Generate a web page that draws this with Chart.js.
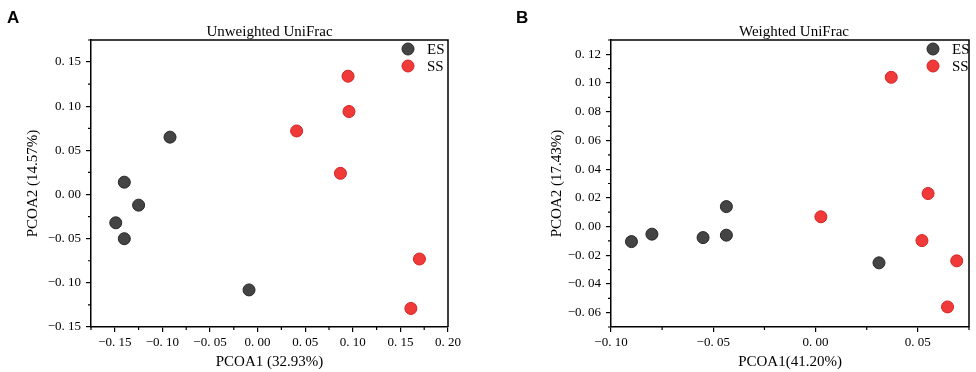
<!DOCTYPE html>
<html>
<head>
<meta charset="utf-8">
<script src="https://cdn.jsdelivr.net/npm/chart.js@4.4.0/dist/chart.umd.min.js"></script>
<style>
  body { margin: 0; background: #fff; }
  #wrap { position: relative; width: 976px; height: 372px; }
  .panel { position: absolute; top: 0; height: 372px; }
</style>
</head>
<body>
<div id="wrap">
  <div class="panel" style="left:0;width:488px"><canvas id="chartA"></canvas></div>
  <div class="panel" style="left:490px;width:486px"><canvas id="chartB"></canvas></div>
</div>
<script>
// panel A - unweighted unifrac
const unwES = [
  {x: -0.092, y: 0.065}, {x: -0.140, y: 0.014}, {x: -0.125, y: -0.012},
  {x: -0.149, y: -0.032}, {x: -0.140, y: -0.050}, {x: -0.009, y: -0.108}
];
const unwSS = [
  {x: 0.095, y: 0.134}, {x: 0.096, y: 0.094}, {x: 0.041, y: 0.072},
  {x: 0.087, y: 0.024}, {x: 0.170, y: -0.073}, {x: 0.161, y: -0.129}
];
// panel B - weighted unifrac
const wES = [
  {x: -0.090, y: -0.0105}, {x: -0.080, y: -0.0053}, {x: -0.055, y: -0.0077},
  {x: -0.0436, y: 0.0139}, {x: -0.0436, y: -0.006}, {x: 0.031, y: -0.0253}
];
const wSS = [
  {x: 0.037, y: 0.104}, {x: 0.0026, y: 0.0068}, {x: 0.055, y: 0.023},
  {x: 0.052, y: -0.0098}, {x: 0.069, y: -0.0239}, {x: 0.0645, y: -0.056}
];
const groupNames = ['ES', 'SS'];

const serif = '"Liberation Serif", "Times New Roman", serif';

const isMajor = (v, major) => Math.abs(Math.round(v / major) * major - v) < 1e-9;

const fmt = (major) => (v) => {
  if (!isMajor(v, major)) return '';
  let s = Math.abs(v).toFixed(2).replace('.', '. ');
  return (v < -1e-9 ? '\u2212' : '') + s;
};

// minor ticks get hidden by chart.js and redrawn shorter here
const decor = {
  id: 'decor',
  afterDraw(chart, args, opts) {
    const ctx = chart.ctx;
    const a = chart.chartArea;
    ctx.save();
    ctx.strokeStyle = '#000';
    ctx.lineWidth = 1.2;
    const sx = chart.scales.x, sy = chart.scales.y;
    ctx.beginPath();
    sx.ticks.forEach(t => {
      if (isMajor(t.value, opts.xMajor)) return;
      const px = sx.getPixelForValue(t.value);
      ctx.moveTo(px, a.bottom);
      ctx.lineTo(px, a.bottom + 3);
    });
    sy.ticks.forEach(t => {
      if (isMajor(t.value, opts.yMajor)) return;
      const py = sy.getPixelForValue(t.value);
      ctx.moveTo(a.left, py);
      ctx.lineTo(a.left - 3, py);
    });
    ctx.stroke();
    // box
    ctx.lineWidth = 1.5;
    ctx.beginPath();
    ctx.moveTo(a.left, a.top);
    ctx.lineTo(a.right, a.top);
    ctx.lineTo(a.right, a.bottom);
    ctx.stroke();
    // title
    ctx.fillStyle = '#000';
    ctx.font = '15px ' + serif;
    ctx.textAlign = 'center';
    ctx.textBaseline = 'alphabetic';
    ctx.fillText(opts.title, (a.left + a.right) / 2 + opts.titleShift, 36);
    // panel letter
    ctx.font = 'bold 17px "Liberation Sans", Arial, sans-serif';
    ctx.textAlign = 'left';
    ctx.fillText(opts.letter, opts.letterX, 23);
    // legend
    chart.data.datasets.forEach((ds, i) => {
      const cy = 49 + i * 17;
      ctx.beginPath();
      ctx.arc(opts.legendX, cy, 6, 0, Math.PI * 2);
      ctx.fillStyle = ds.backgroundColor;
      ctx.fill();
      ctx.lineWidth = 1;
      ctx.strokeStyle = ds.borderColor;
      ctx.stroke();
      ctx.fillStyle = '#000';
      ctx.font = '15px ' + serif;
      ctx.textBaseline = 'middle';
      ctx.fillText(ds.label, opts.legendX + 19, cy + 1);
    });
    ctx.restore();
  }
};

function makeChart(id, es, ss, cfg) {
  const tickCol = (major) => (c) => (c.tick && isMajor(c.tick.value, major)) ? '#000' : 'rgba(0,0,0,0)';
  return new Chart(document.getElementById(id), {
    type: 'scatter',
    data: {
      datasets: [
        {label: groupNames[0], data: es, backgroundColor: '#444444', borderColor: '#262626', borderWidth: 1, pointRadius: 6, pointHoverRadius: 6},
        {label: groupNames[1], data: ss, backgroundColor: '#f03a3a', borderColor: '#d42222', borderWidth: 1, pointRadius: 6, pointHoverRadius: 6}
      ]
    },
    options: {
      responsive: true,
      maintainAspectRatio: false,
      animation: false,
      layout: { padding: { left: 0, top: 40, right: cfg.padRight, bottom: 0 } },
      plugins: {
        legend: { display: false },
        tooltip: { enabled: false },
        decor: Object.assign({ xMajor: cfg.x[3], yMajor: cfg.y[3] }, cfg.decor)
      },
      scales: {
        x: {
          min: cfg.x[0], max: cfg.x[1],
          afterFit: (s) => { s.height = 45; },
          ticks: { stepSize: cfg.x[2], autoSkip: false, maxRotation: 0, padding: 3, color: '#000',
            font: { family: serif, size: 13 }, callback: fmt(cfg.x[3]) },
          grid: { drawOnChartArea: false, tickLength: 5, color: '#000', tickColor: tickCol(cfg.x[3]), lineWidth: 1.2 },
          border: { color: '#000', width: 1.5 },
          title: { display: true, text: cfg.xTitle, color: '#000', font: { family: serif, size: 15 }, padding: { top: 0, bottom: 1 } }
        },
        y: {
          min: cfg.y[0], max: cfg.y[1],
          afterFit: (s) => { s.width = cfg.yWidth; },
          ticks: { stepSize: cfg.y[2], autoSkip: false, padding: 5, color: '#000',
            font: { family: serif, size: 13 }, callback: fmt(cfg.y[3]) },
          grid: { drawOnChartArea: false, tickLength: 5, color: '#000', tickColor: tickCol(cfg.y[3]), lineWidth: 1.2 },
          border: { color: '#000', width: 1.5 },
          title: { display: true, text: cfg.yTitle, color: '#000', font: { family: serif, size: 15 }, padding: { top: cfg.yTitlePad, bottom: 0 } }
        }
      }
    },
    plugins: [decor]
  });
}

makeChart('chartA', unwES, unwSS, {
  x: [-0.175, 0.20, 0.025, 0.05],
  y: [-0.15, 0.175, 0.025, 0.05],
  xTitle: 'PCOA1 (32.93%)',
  yTitle: 'PCOA2 (14.57%)',
  yWidth: 91, yTitlePad: 24, padRight: 40,
  decor: { title: 'Unweighted UniFrac', titleShift: 0, letter: 'A', letterX: 7, legendX: 408 }
});

makeChart('chartB', wES, wSS, {
  x: [-0.10, 0.075, 0.025, 0.05],
  y: [-0.07, 0.13, 0.01, 0.02],
  xTitle: 'PCOA1(41.20%)',
  yTitle: 'PCOA2 (17.43%)',
  yWidth: 121, yTitlePad: 58, padRight: 6,
  decor: { title: 'Weighted UniFrac', titleShift: 4, letter: 'B', letterX: 26, legendX: 443 }
});
</script>
</body>
</html>
